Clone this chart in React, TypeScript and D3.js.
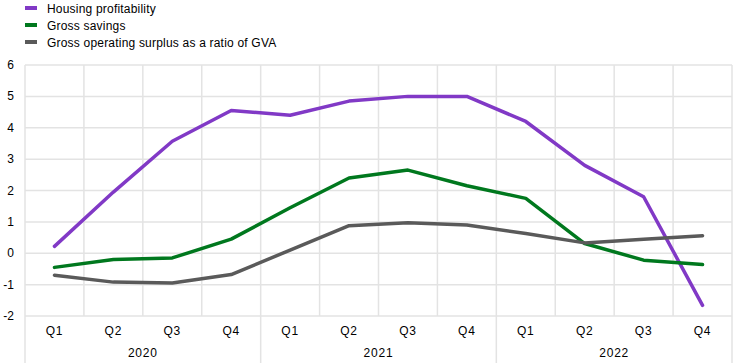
import { useRef, useEffect } from "react";
import * as d3 from "d3";

const quarters = ["Q1", "Q2", "Q3", "Q4", "Q1", "Q2", "Q3", "Q4", "Q1", "Q2", "Q3", "Q4"];
const years = ["2020", "2021", "2022"];
const yTicks = [-2, -1, 0, 1, 2, 3, 4, 5, 6];

const housingProfitability = [0.22, 1.95, 3.57, 4.55, 4.4, 4.85, 5.0, 5.0, 4.2, 2.8, 1.8, -1.66];
const grossSavings = [-0.45, -0.2, -0.15, 0.45, 1.45, 2.4, 2.65, 2.15, 1.75, 0.31, -0.22, -0.36];
const grossOperatingSurplus = [-0.7, -0.92, -0.95, -0.68, 0.1, 0.88, 0.97, 0.9, 0.63, 0.33, 0.45, 0.56];

const series = [
  { label: "Housing profitability", values: housingProfitability, color: "#8139c6" },
  { label: "Gross savings", values: grossSavings, color: "#00781e" },
  { label: "Gross operating surplus as a ratio of GVA", values: grossOperatingSurplus, color: "#5a5a5a" },
];

export default function App() {
  const svgRef = useRef<SVGSVGElement>(null);

  useEffect(() => {
    if (!svgRef.current) return;
    const width = 744;
    const height = 363;
    const svg = d3.select(svgRef.current);
    svg.selectAll("*").remove();
    svg.attr("width", width).attr("height", height);

    const left = 25;
    const right = 732;
    const top = 65;
    const bottom = 316;
    const font = "Arial, 'Liberation Sans', sans-serif";
    const grid = "#e3e3e3";

    const idx = quarters.map((_, i) => String(i));
    const x = d3.scaleBand<string>().domain(idx).range([left, right]);
    const y = d3.scaleLinear().domain([-2, 6]).range([bottom, top]);

    // horizontal grid
    svg
      .append("g")
      .selectAll("line")
      .data(yTicks)
      .join("line")
      .attr("x1", left)
      .attr("x2", right)
      .attr("y1", (d) => y(d))
      .attr("y2", (d) => y(d))
      .attr("stroke", grid)
      .attr("stroke-width", 1.5);

    // vertical grid at category boundaries, year separators run down past the labels
    const bounds = d3.range(quarters.length + 1).map((i) => left + i * x.bandwidth());
    svg
      .append("g")
      .selectAll("line")
      .data(bounds)
      .join("line")
      .attr("x1", (d) => d)
      .attr("x2", (d) => d)
      .attr("y1", top)
      .attr("y2", (_, i) => (i % 4 === 0 ? height : bottom))
      .attr("stroke", grid)
      .attr("stroke-width", 1.5);

    // y labels
    svg
      .append("g")
      .selectAll("text")
      .data(yTicks)
      .join("text")
      .attr("x", 14)
      .attr("y", (d) => y(d) + 4)
      .attr("text-anchor", "end")
      .attr("font-family", font)
      .attr("font-size", 12)
      .attr("fill", "#000")
      .text((d) => String(d));

    // quarter labels
    svg
      .append("g")
      .selectAll("text")
      .data(quarters)
      .join("text")
      .attr("x", (_, i) => (x(String(i)) ?? 0) + x.bandwidth() / 2)
      .attr("y", 335)
      .attr("text-anchor", "middle")
      .attr("font-family", font)
      .attr("font-size", 12)
      .attr("letter-spacing", 0.8)
      .attr("fill", "#000")
      .text((d) => d);

    // year labels
    svg
      .append("g")
      .selectAll("text")
      .data(years)
      .join("text")
      .attr("x", (_, i) => left + (i * 4 + 2) * x.bandwidth())
      .attr("y", 357)
      .attr("text-anchor", "middle")
      .attr("font-family", font)
      .attr("font-size", 12)
      .attr("letter-spacing", 0.8)
      .attr("fill", "#000")
      .text((d) => d);

    const line = d3
      .line<number>()
      .x((_, i) => (x(String(i)) ?? 0) + x.bandwidth() / 2)
      .y((d) => y(d));

    series.forEach((s) => {
      svg
        .append("path")
        .datum(s.values)
        .attr("fill", "none")
        .attr("stroke", s.color)
        .attr("stroke-width", 3.5)
        .attr("stroke-linejoin", "round")
        .attr("stroke-linecap", "round")
        .attr("d", line);
    });

    // legend
    const legend = svg
      .append("g")
      .selectAll("g")
      .data(series)
      .join("g")
      .attr("transform", (_, i) => `translate(25,${8 + i * 17})`);
    legend
      .append("rect")
      .attr("x", 0)
      .attr("y", -2)
      .attr("width", 12)
      .attr("height", 4)
      .attr("fill", (d) => d.color);
    legend
      .append("text")
      .attr("x", 22)
      .attr("y", 4.5)
      .attr("font-family", font)
      .attr("font-size", 12)
      .attr("letter-spacing", 0.2)
      .attr("fill", "#000")
      .text((d) => d.label);
  }, []);

  return <svg ref={svgRef} style={{ position: "absolute", left: 0, top: 0 }} />;
}
